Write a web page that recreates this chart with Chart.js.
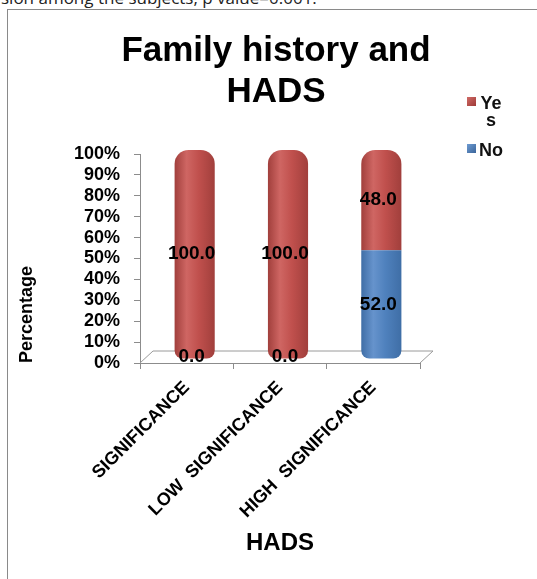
<!DOCTYPE html>
<html>
<head>
<meta charset="utf-8">
<script src="https://cdn.jsdelivr.net/npm/chart.js@4.4.1/dist/chart.umd.min.js"></script>
<style>
  html, body { margin: 0; padding: 0; background: #fff; overflow: hidden; }
  #page { position: relative; width: 537px; height: 579px; overflow: hidden; }
  #caption { position: absolute; left: 1px; top: -10px; font: 17px "Open Sans", sans-serif; line-height: 16px; color: #222; white-space: nowrap; }
  #frame { position: absolute; left: 7px; top: 9px; width: 700px; height: 700px; border: 1.5px solid #8a8a8a; box-sizing: border-box; }
  #title { position: absolute; left: 0; width: 552px; top: 28px; text-align: center; font: bold 35px "Liberation Sans", Arial, sans-serif; line-height: 41px; color: #000; }
  .leg { position: absolute; font: bold 18px "Liberation Sans", Arial, sans-serif; color: #111; }
  .leg .box { position: absolute; left: 0; width: 9px; height: 9px; }
  .leg .txt { position: absolute; left: 10px; width: 28px; text-align: center; line-height: 17px; }
  canvas { position: absolute; left: 0; top: 0; }
</style>
</head>
<body>
<div id="page">
  <div id="caption">sion among the subjects, p value=0.001.</div>
  <div id="frame"></div>
  <canvas id="chart" width="537" height="579"></canvas>
  <div id="title">Family history and<br>HADS</div>
  <div class="leg" style="left:467px; top:96px;">
    <div class="box" style="top:1px; background:linear-gradient(135deg,#d06a66,#9e3a37);"></div>
    <div class="txt" style="top:-1px;">Ye<br>s</div>
  </div>
  <div class="leg" style="left:467px; top:143px;">
    <div class="box" style="top:1px; background:linear-gradient(135deg,#6e9bd2,#3b659a);"></div>
    <div class="txt" style="top:-1px;">No</div>
  </div>
</div>
<script>
// HADS groups and share of subjects with / without a family history (%)
const categories = ['SIGNIFICANCE', 'LOW  SIGNIFICANCE', 'HIGH  SIGNIFICANCE'];
const yesValues = [100.0, 100.0, 48.0];
const noValues = [0.0, 0.0, 52.0];
const seriesNames = ['Yes', 'No'];
const yTickValues = [0, 10, 20, 30, 40, 50, 60, 70, 80, 90, 100];

const RED = { base: '#c0504d', light: '#cf6663', dark: '#a13f3c' };
const BLUE = { base: '#4f81bd', light: '#6693cc', dark: '#3f6ea6' };
const DEPTH_X = 8, DEPTH_Y = -4;          // shift of the columns into the 3-D floor
const FLOOR_X = 13, FLOOR_Y = -12;        // depth of the floor outline
const BAR_FRACTION = 0.43;

// horizontal shading so each column reads as a cylinder
function cylinder(pal) {
  return function (ctx) {
    const chart = ctx.chart;
    const xs = chart.scales.x;
    if (!chart.chartArea || !xs) return pal.base;
    const cx = xs.getPixelForValue(ctx.dataIndex);
    const w = (xs.width / categories.length) * BAR_FRACTION;
    const g = chart.ctx.createLinearGradient(cx - w / 2, 0, cx + w / 2, 0);
    g.addColorStop(0, pal.dark);
    g.addColorStop(0.3, pal.light);
    g.addColorStop(0.6, pal.base);
    g.addColorStop(1, pal.dark);
    return g;
  };
}

const depthPlugin = {
  id: 'depth',
  beforeDatasetsDraw(chart) {
    const c = chart.ctx, xs = chart.scales.x, ys = chart.scales.y;
    const y0 = ys.getPixelForValue(0);
    c.save();
    c.strokeStyle = '#9a9a9a';
    c.lineWidth = 1;
    c.beginPath();
    c.moveTo(xs.left, y0);
    c.lineTo(xs.left + FLOOR_X, y0 + FLOOR_Y);
    c.lineTo(xs.right + FLOOR_X, y0 + FLOOR_Y);
    c.lineTo(xs.right, y0);
    c.stroke();
    c.restore();
    c.save();
    c.translate(DEPTH_X, DEPTH_Y);
  },
  afterDatasetsDraw(chart) {
    const c = chart.ctx;
    c.restore();
    // value labels in the middle of each segment
    c.save();
    c.font = 'bold 19px "Liberation Sans", Arial, sans-serif';
    c.fillStyle = '#000';
    c.textAlign = 'center';
    c.textBaseline = 'middle';
    chart.data.datasets.forEach((ds, di) => {
      const meta = chart.getDatasetMeta(di);
      meta.data.forEach((el, i) => {
        const v = ds.data[i];
        const y = (el.y + el.base) / 2 + DEPTH_Y - (v === 0 ? 2 : 0);
        c.fillText(v.toFixed(1), el.x + DEPTH_X - 3, y);
      });
    });
    c.restore();
  }
};

new Chart(document.getElementById('chart'), {
  type: 'bar',
  data: {
    labels: categories,
    datasets: [
      {
        label: seriesNames[1],
        data: noValues,
        backgroundColor: cylinder(BLUE),
        borderSkipped: false,
        borderRadius: { topLeft: 0, topRight: 0, bottomLeft: 8, bottomRight: 8 },
        categoryPercentage: 1,
        barPercentage: BAR_FRACTION
      },
      {
        label: seriesNames[0],
        data: yesValues,
        backgroundColor: cylinder(RED),
        borderSkipped: false,
        borderRadius: (ctx) => {
          const bottom = noValues[ctx.dataIndex] === 0 ? 8 : 0;
          return { topLeft: 14, topRight: 14, bottomLeft: bottom, bottomRight: bottom };
        },
        categoryPercentage: 1,
        barPercentage: BAR_FRACTION
      }
    ]
  },
  options: {
    responsive: false,
    animation: false,
    devicePixelRatio: 1,
    layout: { padding: { left: 8, right: 117, top: 154, bottom: 0 } },
    plugins: {
      legend: { display: false },
      title: { display: false },
      tooltip: { enabled: false }
    },
    scales: {
      x: {
        stacked: true,
        afterFit: (s) => { s.height = 216; },
        border: { display: true, color: '#8c8c8c', width: 1 },
        grid: { display: true, drawOnChartArea: false, tickLength: 6, color: '#8c8c8c', offset: true },
        ticks: {
          autoSkip: false, minRotation: 45, maxRotation: 45, padding: 8,
          color: '#000', font: { family: '"Liberation Sans", Arial, sans-serif', size: 18, weight: 'bold' }
        },
        title: {
          display: true, text: 'HADS', color: '#000',
          font: { family: '"Liberation Sans", Arial, sans-serif', size: 24, weight: 'bold' },
          padding: { top: 0, bottom: 21 }
        }
      },
      y: {
        stacked: true,
        min: 0, max: 100,
        afterFit: (s) => { s.width = 132; },
        afterBuildTicks: (s) => { s.ticks = yTickValues.map(v => ({ value: v })); },
        border: { display: true, color: '#8c8c8c', width: 1 },
        grid: { display: true, drawOnChartArea: false, tickLength: 6, color: '#8c8c8c' },
        ticks: {
          autoSkip: false, padding: 14, color: '#000',
          callback: (v) => v + '%',
          font: { family: '"Liberation Sans", Arial, sans-serif', size: 18, weight: 'bold', lineHeight: 1 }
        },
        title: {
          display: true, text: 'Percentage', align: 'start', color: '#000',
          font: { family: '"Liberation Sans", Arial, sans-serif', size: 18, weight: 'bold' },
          padding: { top: 8, bottom: 0 }
        }
      }
    }
  },
  plugins: [depthPlugin]
});
</script>
</body>
</html>
